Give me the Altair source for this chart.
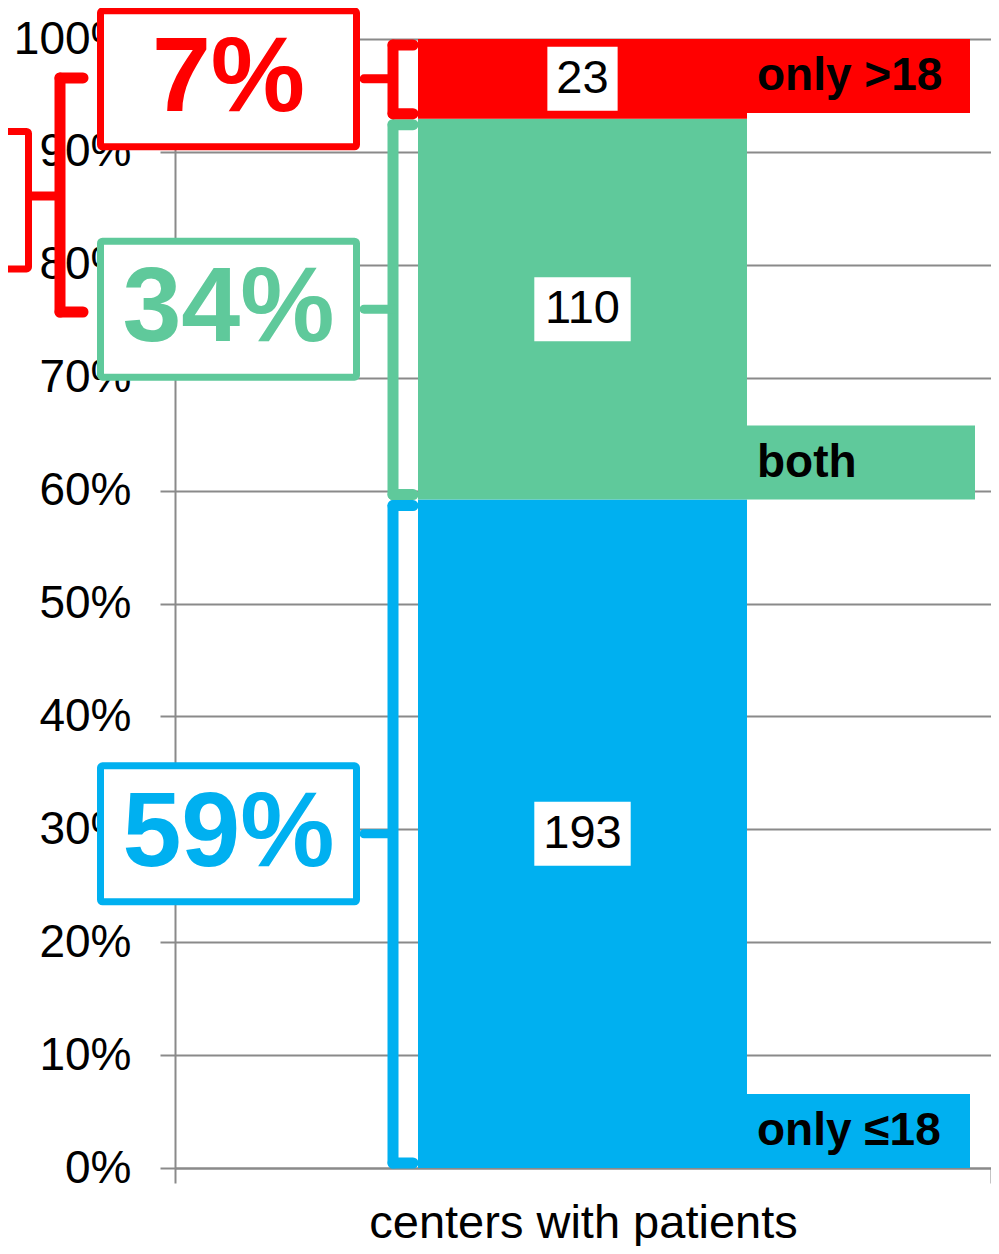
import altair as alt
import pandas as pd

# ---------------- data ----------------
groups = ["only ≤18", "both", "only >18"]
counts = [193, 110, 23]
colors = ["#00B0F0", "#5FC99B", "#FF0000"]
category = "centers with patients"
y_tick_values = [0.0, 0.1, 0.2, 0.3, 0.4, 0.5, 0.6, 0.7, 0.8, 0.9, 1.0]

# ---------------- layout ----------------
FONT = "Liberation Sans"
GRAY = "#8a8a8a"
W, H = 816, 1129          # plot area in px
PX = 1.0 / H              # one pixel in y units
BAR_X0, BAR_X1 = 243, 572
BAR_XC = (BAR_X0 + BAR_X1) / 2
TAG_X1 = [795, 800, 795]
TAG_H = 74 * PX
BOX_X0, BOX_X1 = -74.5, 181.5
BOX_HALF = 68 * PX

total = sum(counts)
y0, acc = [], 0
for c in counts:
    y0.append(acc / total)
    acc += c
y1 = y0[1:] + [1.0]

seg = pd.DataFrame({
    "group": groups,
    "count": counts,
    "color": colors,
    "y0": y0,
    "y1": y1,
})
seg["mid"] = (seg["y0"] + seg["y1"]) / 2
seg["pct"] = [f"{round(c / total * 100)}%" for c in counts]
seg["bx0"] = BAR_X0
seg["bx1"] = BAR_X1
seg["xc"] = BAR_XC
seg["hw"] = seg["count"].astype(str).str.len() * 0.556 * 47 / 2 + 9
seg["vx0"] = BAR_XC - seg["hw"]
seg["vx1"] = BAR_XC + seg["hw"]
seg["vy0"] = seg["mid"] - 32 * PX
seg["vy1"] = seg["mid"] + 32 * PX
# category tags on the right of the bar
last = len(groups) - 1
seg["tx0"] = BAR_X1
seg["tx1"] = TAG_X1
seg["ty0"] = [1.0 - TAG_H if i == last else seg["y0"][i] for i in range(len(groups))]
seg["ty1"] = seg["ty0"] + TAG_H
seg["tmid"] = (seg["ty0"] + seg["ty1"]) / 2
seg["tx"] = BAR_X1 + 10
# percentage boxes on the left
seg["px0"] = BOX_X0
seg["px1"] = BOX_X1
seg["py0"] = seg["mid"] - BOX_HALF
seg["py1"] = seg["mid"] + BOX_HALF
seg["pxc"] = (BOX_X0 + BOX_X1) / 2

# braces, drawn as rule segments
def brace(color, top, bot, mid, xv, xs, xt):
    return [
        {"x": xv, "x2": xs, "y": top, "y2": top, "color": color, "part": "body"},
        {"x": xv, "x2": xv, "y": top, "y2": bot, "color": color, "part": "body"},
        {"x": xv, "x2": xs, "y": bot, "y2": bot, "color": color, "part": "body"},
        {"x": xt, "x2": xv, "y": mid, "y2": mid, "color": color, "part": "tip"},
    ]

rows = []
for i in range(len(groups)):
    rows += brace(colors[i], seg["y1"][i] - 6 * PX, seg["y0"][i] + 5 * PX,
                  seg["mid"][i], 218, BAR_X0 - 5, 189)
# combined brace (both + only >18) on the far left
rows += brace(colors[2], 0.9655, 0.7582, 0.8609, -115, -92, -143)
br = pd.DataFrame(rows)

left_box = pd.DataFrame({"x0": [-330], "x1": [-146.5], "y0": [0.7963], "y1": [0.9181],
                         "color": [colors[2]]})

# ---------------- scales / axes ----------------
XS = alt.Scale(domain=[0, W], nice=False, zero=False)
YS = alt.Scale(domain=[0, 1], nice=False, zero=True)
X_AXIS = alt.Axis(values=[0, W], labels=False, ticks=True, tickSize=15, tickColor=GRAY,
                  tickWidth=2, domain=True, domainColor=GRAY, domainWidth=2, grid=False,
                  title=category, titleFontSize=47, titleFont=FONT, titleFontWeight="normal",
                  titleColor="black", titlePadding=16)
Y_AXIS = alt.Axis(values=y_tick_values, format=".0%", labelFontSize=46, labelFont=FONT,
                  labelColor="black", labelPadding=29, tickSize=15, tickColor=GRAY, tickWidth=2,
                  domain=True, domainColor=GRAY, domainWidth=2, grid=True, gridColor=GRAY,
                  gridWidth=2, title=None)

def X(f):
    return alt.X(f, type="quantitative", scale=XS, axis=X_AXIS)

def Y(f):
    return alt.Y(f, type="quantitative", scale=YS, axis=Y_AXIS)

NOC = alt.Color("color:N", scale=None)

brace_body = alt.Chart(br).transform_filter(alt.datum.part == "body").mark_rule(
    strokeCap="round", strokeWidth=11).encode(
    x=X("x"), x2="x2", y=Y("y"), y2="y2", color=NOC)

brace_tip = alt.Chart(br).transform_filter(alt.datum.part == "tip").mark_rule(
    strokeCap="round", strokeWidth=9).encode(
    x=X("x"), x2="x2", y=Y("y"), y2="y2", color=NOC)

bars = alt.Chart(seg).mark_rect().encode(
    x=X("bx0"), x2="bx1", y=Y("y0"), y2="y1", color=NOC)

tags = alt.Chart(seg).mark_rect().encode(
    x=X("tx0"), x2="tx1", y=Y("ty0"), y2="ty1", color=NOC)

tag_text = alt.Chart(seg).mark_text(font=FONT, fontSize=46, fontWeight="bold", align="left",
                                    baseline="middle", color="black").encode(
    x=X("tx"), y=Y("tmid"), text="group:N")

val_box = alt.Chart(seg).mark_rect(color="white").encode(
    x=X("vx0"), x2="vx1", y=Y("vy0"), y2="vy1")

val_text = alt.Chart(seg).mark_text(font=FONT, fontSize=47, align="center", baseline="middle",
                                    color="black").encode(
    x=X("xc"), y=Y("mid"), text="count:Q")

pct_box = alt.Chart(seg).mark_rect(fill="white", strokeWidth=7, cornerRadius=2).encode(
    x=X("px0"), x2="px1", y=Y("py0"), y2="py1", stroke=alt.Stroke("color:N", scale=None))

pct_text = alt.Chart(seg).mark_text(font=FONT, fontSize=106, fontWeight="bold", align="center",
                                    baseline="middle").encode(
    x=X("pxc"), y=Y("mid"), text="pct:N", color=NOC)

lbox = alt.Chart(left_box).mark_rect(fill="white", strokeWidth=7, cornerRadius=2).encode(
    x=X("x0"), x2="x1", y=Y("y0"), y2="y1", stroke=alt.Stroke("color:N", scale=None))

chart = alt.layer(
    brace_body, brace_tip, bars, tags, val_box, val_text, tag_text, pct_box, pct_text, lbox
).properties(
    width=W, height=H,
    autosize=alt.AutoSizeParams(type="none"),
    padding={"left": 167, "top": 31, "right": 0, "bottom": 78},
).configure_view(strokeWidth=0)

chart.save("out.html", embed_options={"renderer": "svg", "actions": False})
